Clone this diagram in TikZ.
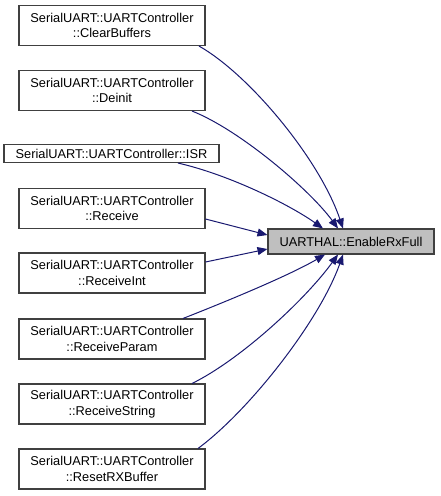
\documentclass[tikz,border=0pt]{standalone}
\usepackage{fontspec}
\setmainfont{Liberation Sans}
\usetikzlibrary{arrows.meta,calc}
\definecolor{edgeblue}{HTML}{191970}
\definecolor{boxgray}{HTML}{404040}
\tikzset{
  fn/.style={draw=boxgray, line width=0.8pt, fill=white, inner sep=0pt, align=center,
    minimum width=139.5pt, minimum height=30pt,
    font=\fontsize{9.6}{11.6}\selectfont},
  fnone/.style={fn, minimum width=161.25pt, minimum height=13.5pt},
  target/.style={fn, fill=black!25, minimum width=124.5pt, minimum height=18.75pt},
  call/.style={draw=edgeblue, line width=0.75pt, -{Triangle[length=7.5pt,width=6pt]}, fill=none},
}
\begin{document}
\begin{tikzpicture}[x=0.75pt,y=-0.75pt]
\useasboundingbox (0,0) rectangle (440,496);
\node[fn] (cb) at (112,25.5) {SerialUART::UARTController\\::ClearBuffers};
\node[fn] (de) at (112,90.5) {SerialUART::UARTController\\::Deinit};
\node[fnone] (isr) at (111.5,153.5) {SerialUART::UARTController::ISR};
\node[fn] (re) at (112,208.5) {SerialUART::UARTController\\::Receive};
\node[fn] (ri) at (112,273) {SerialUART::UARTController\\::ReceiveInt};
\node[fn] (rp) at (112,339) {SerialUART::UARTController\\::ReceiveParam};
\node[fn] (rs) at (112,404) {SerialUART::UARTController\\::ReceiveString};
\node[fn] (rx) at (112,469) {SerialUART::UARTController\\::ResetRXBuffer};
\node[target] (t) at (351,241.5) {UARTHAL::EnableRxFull};

\draw[call] ($(cb.south)+(87,0)$) .. controls (250,75) and (320,160) .. ($(t.north)+(-8,0)$);
\draw[call] ($(de.south)+(80,0)$) .. controls (240,130) and (310,190) .. ($(t.north)+(-13,0)$);
\draw[call] ($(isr.south)+(66.5,0)$) .. controls (230,175) and (290,205) .. ($(t.north)+(-28,0)$);
\draw[call] ($(re.east)+(0,10.5)$) -- ($(t.west)+(0,-6.5)$);
\draw[call] ($(ri.east)+(0,-11)$) -- ($(t.west)+(0,7.5)$);
\draw[call] ($(rp.north)+(71,0)$) .. controls (230,300) and (290,275) .. ($(t.south)+(-26,0)$);
\draw[call] ($(rs.north)+(80,0)$) .. controls (240,360) and (305,300) .. ($(t.south)+(-13,0)$);
\draw[call] ($(rx.north)+(86,0)$) .. controls (250,410) and (320,320) .. ($(t.south)+(-8,0)$);
\end{tikzpicture}
\end{document}
